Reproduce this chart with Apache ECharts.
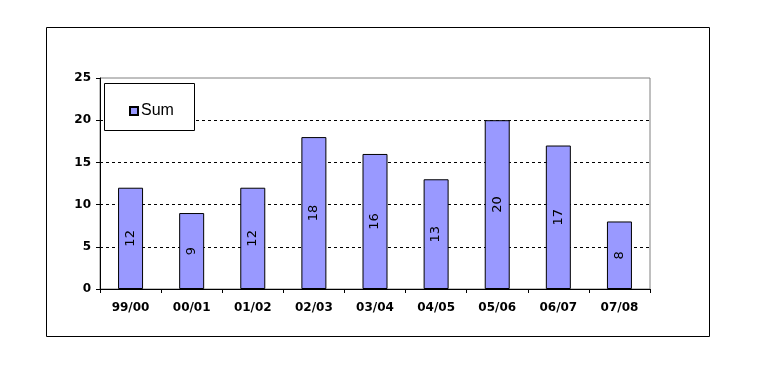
<!DOCTYPE html>
<html>
<head>
<meta charset="utf-8">
<script src="https://cdn.jsdelivr.net/npm/echarts@6/dist/echarts.min.js"></script>
<style>
html,body{margin:0;padding:0;background:#fff;}
#c{width:757px;height:365px;}
</style>
</head>
<body>
<div id="c"></div>
<script>
var categories = ['99/00','00/01','01/02','02/03','03/04','04/05','05/06','06/07','07/08'];
var sumValues = [12, 9, 12, 18, 16, 13, 20, 17, 8];
var yTicks = [0, 5, 10, 15, 20, 25];

var chart = echarts.init(document.getElementById('c'), null, {renderer: 'canvas'});
chart.setOption({
  animation: false,
  backgroundColor: '#ffffff',
  graphic: [
    {type: 'rect', z: 0, shape: {x: 46.5, y: 27.5, width: 663, height: 309}, style: {fill: 'none', stroke: '#000', lineWidth: 1}},
    {type: 'rect', z: 50, shape: {x: 104.5, y: 83.5, width: 90, height: 47}, style: {fill: '#fff', stroke: '#000', lineWidth: 1}}
  ],
  grid: {left: 100, top: 78, width: 550, height: 211, show: true, borderColor: '#808080', borderWidth: 1, backgroundColor: 'transparent'},
  legend: {
    show: true, z: 60, left: 124, top: 98, itemWidth: 8, itemHeight: 8, itemGap: 4,
    data: [{name: 'Sum', icon: 'rect'}],
    textStyle: {fontFamily: 'Liberation Sans', fontSize: 16, color: '#000', padding: [0,0,0,-2]}
  },
  xAxis: {
    type: 'category', data: categories, boundaryGap: true,
    axisLine: {lineStyle: {color: '#000', width: 1}},
    axisTick: {show: true, length: 4, lineStyle: {color: '#000'}},
    axisLabel: {fontFamily: 'DejaVu Sans', fontWeight: 'bold', fontSize: 12, color: '#000', margin: 13}
  },
  yAxis: {
    type: 'value', min: yTicks[0], max: yTicks[yTicks.length-1], interval: 5,
    axisLine: {show: true, lineStyle: {color: '#000', width: 1}},
    axisTick: {show: true, length: 4, lineStyle: {color: '#000'}},
    axisLabel: {fontFamily: 'DejaVu Sans', fontWeight: 'bold', fontSize: 12, color: '#000', margin: 9},
    splitLine: {show: true, showMaxLine: false, showMinLine: false, lineStyle: {color: '#000', type: [3, 3], width: 1}}
  },
  series: [{
    name: 'Sum', type: 'bar', data: sumValues, barWidth: 25,
    itemStyle: {color: '#9999FF', borderColor: '#000', borderWidth: 1},
    label: {show: true, position: 'inside', rotate: 90, fontFamily: 'DejaVu Sans', fontSize: 13, color: '#000'}
  }]
});
</script>
</body>
</html>
